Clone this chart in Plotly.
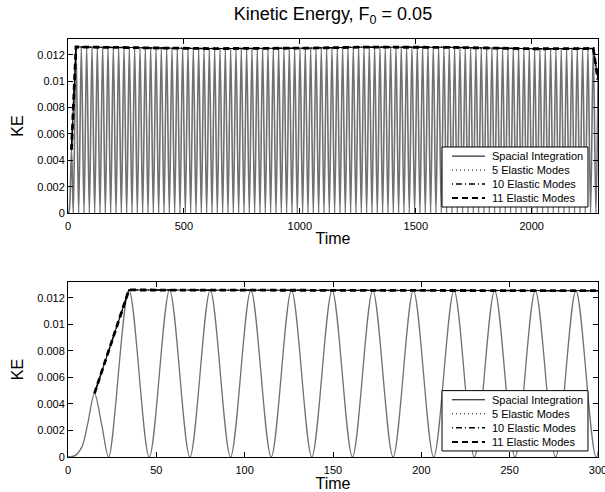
import plotly.graph_objects as go

# ---------------- data ----------------
# start-up of the oscillation (first, smaller hump)
start_t = [0, 4, 8, 11, 15, 19]
start_ke = [0.0, 0.0001, 0.0008, 0.0024, 0.0048, 0.0025]

# crests of the kinetic-energy oscillation
peak_t = [
    34.5, 57.5, 80.5, 103.5, 126.5, 149.5, 172.5, 195.5, 218.5, 241.5,
    264.5, 287.5, 310.5, 333.5, 356.5, 379.5, 402.5, 425.5, 448.5, 471.5,
    494.5, 517.5, 540.5, 563.5, 586.5, 609.5, 632.5, 655.5, 678.5, 701.5,
    724.5, 747.5, 770.5, 793.5, 816.5, 839.5, 862.5, 885.5, 908.5, 931.5,
    954.5, 977.5, 1000.5, 1023.5, 1046.5, 1069.5, 1092.5, 1115.5, 1138.5, 1161.5,
    1184.5, 1207.5, 1230.5, 1253.5, 1276.5, 1299.5, 1322.5, 1345.5, 1368.5, 1391.5,
    1414.5, 1437.5, 1460.5, 1483.5, 1506.5, 1529.5, 1552.5, 1575.5, 1598.5, 1621.5,
    1644.5, 1667.5, 1690.5, 1713.5, 1736.5, 1759.5, 1782.5, 1805.5, 1828.5, 1851.5,
    1874.5, 1897.5, 1920.5, 1943.5, 1966.5, 1989.5, 2012.5, 2035.5, 2058.5, 2081.5,
    2104.5, 2127.5, 2150.5, 2173.5, 2196.5, 2219.5, 2242.5, 2265.5,
]
peak_ke = [
    0.01260, 0.01259, 0.01259, 0.01258, 0.01258, 0.01257, 0.01257, 0.01256, 0.01256, 0.01255,
    0.01255, 0.01254, 0.01254, 0.01253, 0.01253, 0.01252, 0.01252, 0.01251, 0.01251, 0.01250,
    0.01250, 0.01249, 0.01249, 0.01248, 0.01248, 0.01247, 0.01247, 0.01247, 0.01246, 0.01246,
    0.01246, 0.01246, 0.01246, 0.01246, 0.01246, 0.01247, 0.01247, 0.01247, 0.01248, 0.01248,
    0.01249, 0.01249, 0.01250, 0.01250, 0.01251, 0.01252, 0.01252, 0.01253, 0.01254, 0.01255,
    0.01256, 0.01256, 0.01257, 0.01258, 0.01258, 0.01259, 0.01260, 0.01260, 0.01261, 0.01261,
    0.01262, 0.01262, 0.01262, 0.01262, 0.01261, 0.01261, 0.01260, 0.01260, 0.01259, 0.01258,
    0.01257, 0.01256, 0.01255, 0.01254, 0.01253, 0.01252, 0.01251, 0.01250, 0.01249, 0.01248,
    0.01248, 0.01247, 0.01247, 0.01246, 0.01246, 0.01246, 0.01246, 0.01246, 0.01246, 0.01246,
    0.01246, 0.01246, 0.01247, 0.01247, 0.01247, 0.01248, 0.01248, 0.01248,
]

# troughs (kinetic energy returns to zero)
trough_t = [
    23, 46, 69, 92, 115, 138, 161, 184, 207, 230,
    253, 276, 299, 322, 345, 368, 391, 414, 437, 460,
    483, 506, 529, 552, 575, 598, 621, 644, 667, 690,
    713, 736, 759, 782, 805, 828, 851, 874, 897, 920,
    943, 966, 989, 1012, 1035, 1058, 1081, 1104, 1127, 1150,
    1173, 1196, 1219, 1242, 1265, 1288, 1311, 1334, 1357, 1380,
    1403, 1426, 1449, 1472, 1495, 1518, 1541, 1564, 1587, 1610,
    1633, 1656, 1679, 1702, 1725, 1748, 1771, 1794, 1817, 1840,
    1863, 1886, 1909, 1932, 1955, 1978, 2001, 2024, 2047, 2070,
    2093, 2116, 2139, 2162, 2185, 2208, 2231, 2254, 2277,
]
trough_ke = [0.0] * len(trough_t)

# last sample of the run
end_t = [2286]
end_ke = [0.0101]

# envelope through the crests (identical for all four models)
env_t = [15] + peak_t + end_t
env_ke = [0.0048] + peak_ke + end_ke

series_names = ["Spacial Integration", "5 Elastic Modes", "10 Elastic Modes", "11 Elastic Modes"]

top_xticks = [0, 500, 1000, 1500, 2000]
bottom_xticks = [0, 50, 100, 150, 200, 250, 300]
yticks = [0, 0.002, 0.004, 0.006, 0.008, 0.010, 0.012]
ytick_text = ["0", "0.002", "0.004", "0.006", "0.008", "0.01", "0.012"]

# ---------------- assemble the oscillating curve ----------------
pts = sorted(zip(start_t + peak_t + trough_t + end_t,
                 start_ke + peak_ke + trough_ke + end_ke))
osc_t = [p[0] for p in pts]
osc_ke = [p[1] for p in pts]

FONT = "Liberation Sans, Arial, Helvetica, sans-serif"
styles = [
    dict(color="black", width=1, dash="solid"),
    dict(color="black", width=1, dash="1px,3px"),
    dict(color="black", width=1.5, dash="1px,3px,6px,3px"),
    dict(color="black", width=2.8, dash="6px,4px"),
]

fig = go.Figure()
for xa, ya, gw in (("x", "y", 1.6), ("x2", "y2", 1.3)):
    fig.add_trace(go.Scatter(
        x=osc_t, y=osc_ke, xaxis=xa, yaxis=ya, mode="lines",
        line=dict(color="#707070", width=gw, shape="spline", smoothing=0.9),
        showlegend=False, hoverinfo="skip"))
    for name, st in zip(series_names, styles):
        fig.add_trace(go.Scatter(
            x=env_t, y=env_ke, xaxis=xa, yaxis=ya, mode="lines",
            name=name, line=st, showlegend=False))

# boxed key inside each panel
row_y = [0.327, 0.247, 0.167, 0.086]
shapes = []
annotations = []
for xr, yr in (("x domain", "y domain"), ("x2 domain", "y2 domain")):
    shapes.append(dict(type="rect", xref=xr, yref=yr, x0=0.7057, x1=0.9811,
                       y0=0.0345, y1=0.3793, line=dict(color="black", width=1),
                       fillcolor="white", layer="above"))
    for name, st, yy in zip(series_names, styles, row_y):
        lw = min(st["width"], 2)
        shapes.append(dict(type="line", xref=xr, yref=yr, x0=0.7245, x1=0.7868,
                           y0=yy, y1=yy, layer="above",
                           line=dict(color="black", width=lw, dash=st["dash"])))
        annotations.append(dict(xref=xr, yref=yr, x=0.7962, y=yy, text=name,
                                showarrow=False, xanchor="left", yanchor="middle",
                                font=dict(family=FONT, size=11, color="black")))

axis_common = dict(showline=True, linecolor="black", linewidth=1, mirror="ticks",
                   ticks="inside", ticklen=5, tickcolor="black", showgrid=False,
                   zeroline=False, automargin=False,
                   tickfont=dict(family=FONT, size=11, color="black"))

fig.update_layout(
    width=605, height=492,
    margin=dict(l=68, r=7, t=39, b=35),
    paper_bgcolor="white", plot_bgcolor="white",
    font=dict(family=FONT, color="black"),
    title=dict(text="Kinetic Energy, F<sub>0</sub> = 0.05", x=0.5, xref="paper",
               xanchor="center", y=0.972, yanchor="middle",
               font=dict(family=FONT, size=18, color="black")),
    xaxis=dict(domain=[0, 1], anchor="y", range=[0, 2286], tickvals=top_xticks,
               ticklabelstandoff=3,
               title=dict(text="Time", standoff=1, font=dict(size=16)), **axis_common),
    yaxis=dict(domain=[0.5837, 1], anchor="x", range=[0, 0.0132], tickvals=yticks,
               ticktext=ytick_text,
               title=dict(text="KE", standoff=9, font=dict(size=16)), **axis_common),
    xaxis2=dict(domain=[0, 1], anchor="y2", range=[0, 300], tickvals=bottom_xticks,
                ticklabelstandoff=3, ticklabeloverflow="allow",
                title=dict(text="Time", standoff=1, font=dict(size=16)), **axis_common),
    yaxis2=dict(domain=[0, 0.4187], anchor="x2", range=[0, 0.0132], tickvals=yticks,
                ticktext=ytick_text,
                title=dict(text="KE", standoff=9, font=dict(size=16)), **axis_common),
    shapes=shapes,
    annotations=annotations,
    showlegend=False,
)

fig.write_html("out.html")
